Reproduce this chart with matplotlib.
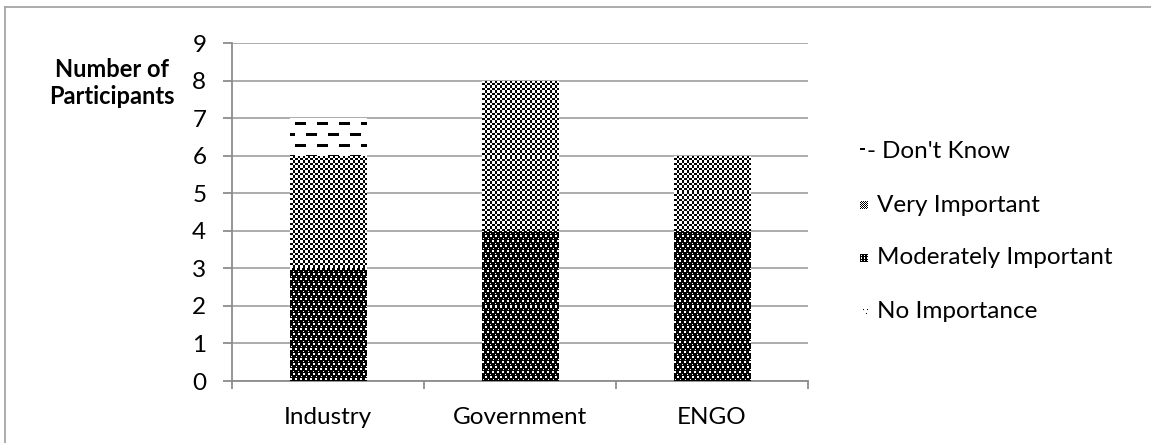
import numpy as np
import matplotlib
matplotlib.use("Agg")
import matplotlib.pyplot as plt
from matplotlib.lines import Line2D

# ---- data ----
categories = ["Industry", "Government", "ENGO"]
no_importance = [0, 0, 0]
moderately_important = [3, 4, 4]
very_important = [3, 4, 2]
dont_know = [1, 0, 0]

series_names = ["No Importance", "Moderately Important", "Very Important", "Don't Know"]
y_ticks = list(range(0, 10))

plt.rcParams["font.family"] = ["Lato", "DejaVu Sans"]

W, H = 1151, 443
DPI = 100
fig = plt.figure(figsize=(W / DPI, H / DPI), dpi=DPI)
fig.patch.set_facecolor("white")

AX_L, AX_R = 232 / W, 808 / W
AX_B, AX_T = 1 - 381 / H, 1 - 43 / H
ax = fig.add_axes([AX_L, AX_B, AX_R - AX_L, AX_T - AX_B])

grid_c = "#a6a6a6"
axis_c = "#8c8c8c"
FS = 17.5


# ---- pixel textures (1 array cell = 1 screen pixel) ----
def tex_checker(h, w):
    i, j = np.mgrid[0:h, 0:w]
    return (((i * 2) // 5 + (j * 2) // 5) % 2 == 0).astype(float)


def tex_dots(h, w):
    i, j = np.mgrid[0:h, 0:w]
    shift = 2 * ((i // 5) % 2)
    white = (i % 5 < 2) & ((j + shift) % 5 < 2)
    white |= (i % 5 == 3) & ((j + shift) % 5 == 3)
    return white.astype(float)


def tex_dashes(h, w):
    i, j = np.mgrid[0:h, 0:w]
    ii = i + 7
    row = ii // 11
    shift = 11 * (row % 2)
    black = (ii % 11 < 3) & ((j + shift + 6) % 22 < 11)
    return (~black).astype(float)


def tex_diag(h, w):
    i, j = np.mgrid[0:h, 0:w]
    black = ((i + j) % 6 == 0) & (i % 2 == 0)
    return (~black).astype(float)


textures = {
    "No Importance": tex_diag,
    "Moderately Important": tex_dots,
    "Very Important": tex_checker,
    "Don't Know": tex_dashes,
}


# small swatches for the legend keys
def key_checker(n):
    i, j = np.mgrid[0:n, 0:n]
    return ((i + j) % 2 == 0).astype(float)


def key_dots(n):
    i, j = np.mgrid[0:n, 0:n]
    return (((i % 2) == 0) & ((j % 3) == 1)).astype(float)


def key_diag(n):
    img = np.ones((n, n))
    for k in range(0, n, 3):
        img[k, k] = 0
        if k + 4 < n:
            img[k, k + 4] = 0
    return img


def key_dash(n):
    img = np.ones((n, n))
    img[0:2, 0:5] = 0
    return img


key_images = {
    "Don't Know": key_dash,
    "Very Important": key_checker,
    "Moderately Important": key_dots,
    "No Importance": key_diag,
}

x = np.arange(len(categories))
bar_w = 0.4
ax.set_xlim(-0.5, len(categories) - 0.5)
ax.set_ylim(0, 9)

stack = [no_importance, moderately_important, very_important, dont_know]
bottom = np.zeros(len(categories))
for name, vals in zip(series_names, stack):
    vals = np.array(vals, dtype=float)
    bars = ax.bar(x, vals, bar_w, bottom=bottom, facecolor="none",
                  edgecolor="none", linewidth=0, zorder=3)
    for rect in bars:
        if rect.get_height() <= 0:
            continue
        x0, y0 = rect.get_x(), rect.get_y()
        x1, y1 = x0 + rect.get_width(), y0 + rect.get_height()
        (px0, py0), (px1, py1) = ax.transData.transform([(x0, y0), (x1, y1)])
        wpx = max(1, int(round(px1 - px0)))
        hpx = max(1, int(round(py1 - py0)))
        img = textures[name](hpx, wpx)
        im = ax.imshow(img, cmap="gray", vmin=0, vmax=1, extent=[x0, x1, y0, y1],
                       interpolation="nearest", aspect="auto", zorder=3)
        im.set_clip_path(rect)
    bottom += vals

ax.set_xlim(-0.5, len(categories) - 0.5)
ax.set_ylim(0, 9)

# ---- axes styling ----
for s in ["top", "right"]:
    ax.spines[s].set_visible(False)
for s in ["left", "bottom"]:
    ax.spines[s].set_color(axis_c)
    ax.spines[s].set_linewidth(1.3)

ax.set_yticks(y_ticks)
ax.set_yticklabels([str(t) for t in y_ticks])
ax.yaxis.grid(True, color=grid_c, linewidth=1.3, zorder=0)
ax.set_axisbelow(True)
ax.tick_params(axis="y", length=6.5, width=1.3, color=axis_c, pad=12,
               labelsize=FS, labelcolor="black")

ax.set_xticks(x)
ax.set_xticklabels(categories)
ax.set_xticks(np.arange(-0.5, len(categories)), minor=True)
ax.tick_params(axis="x", which="major", length=0, pad=19, labelsize=FS,
               labelcolor="black")
ax.tick_params(axis="x", which="minor", length=6, width=1.3, color=axis_c)

# ---- axis title ----
fig.text(112 / W, 1 - 83 / H, "Number of\nParticipants", ha="center", va="center",
         multialignment="center", fontsize=17, fontweight="bold",
         linespacing=1.2)

# ---- legend ----
legend_order = ["Don't Know", "Very Important", "Moderately Important", "No Importance"]
legend_y = [152, 205, 258, 311]
for name, yc in zip(legend_order, legend_y):
    size = 8
    lax = fig.add_axes([860 / W, 1 - (yc + size / 2) / H, size / W, size / H])
    lax.imshow(key_images[name](size), cmap="gray", vmin=0, vmax=1,
               interpolation="nearest", aspect="auto")
    lax.axis("off")
    if name == "Don't Know":
        fig.text(866 / W, 1 - yc / H, "-", ha="left", va="center", fontsize=FS)
        tx = 882
    else:
        tx = 877
    fig.text(tx / W, 1 - yc / H, name, ha="left", va="center", fontsize=FS)

# ---- outer frame ----
frame_c = "#a6a6a6"
fig.add_artist(Line2D([5 / W, 5 / W], [0, 1 - 7 / H], transform=fig.transFigure,
                      color=frame_c, linewidth=1.3))
fig.add_artist(Line2D([5 / W, 1], [1 - 7 / H, 1 - 7 / H], transform=fig.transFigure,
                      color=frame_c, linewidth=1.3))

fig.savefig("out.png", dpi=DPI, facecolor="white")
